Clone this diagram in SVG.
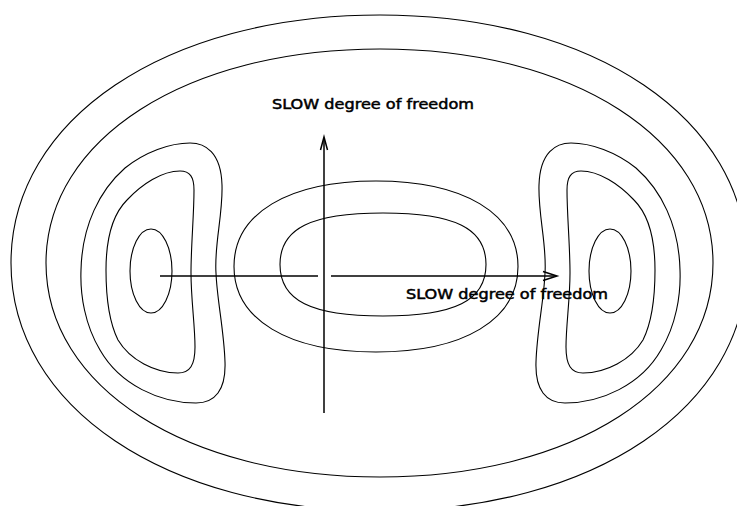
<svg xmlns="http://www.w3.org/2000/svg" width="737" height="506" viewBox="0 0 737 506">
  <style>
    .c { fill: none; stroke: #000; stroke-width: 1.1; }
    .ax { fill: none; stroke: #000; stroke-width: 1.5; }
    .lbl { font-family: "DejaVu Sans", "Liberation Sans", sans-serif; font-size: 14px; fill: #000; stroke: #000; stroke-width: 0.5; }
  </style>
  <defs>
    <g id="lobe">
      <path class="c" d="M190,143 C205,143 221,152 222,185 C223,215 214,245 216,273 C217,300 224,330 225,362 C226,390 215,403 196,403 C160,403 120,385 100,350 C85,325 80,295 81,270 C82,225 100,190 125,168 C145,152 170,143 190,143 Z"/>
      <path class="c" d="M180,171 C190,171 194,177 194,190 C194,215 191,245 191,273 C191,300 195,325 195,347 C195,365 190,373 178,373 C155,373 130,360 118,340 C109,322 106,295 106,270 C106,240 112,215 127,200 C142,184 162,171 180,171 Z"/>
      <ellipse class="c" cx="151" cy="271" rx="21" ry="42"/>
    </g>
  </defs>
  <rect width="737" height="506" fill="#fff"/>
  <g id="outer-contours">
    <path class="c" d="M11,263 C11,119.2 166,15 380,15 C594,15 747,119.2 747,263 C747,406.8 594,511 380,511 C166,511 11,406.8 11,263 Z"/>
    <path class="c" d="M46,263 C46,138.9 186.3,49 380,49 C573.7,49 713,138.9 713,263 C713,387.1 573.7,477 380,477 C186.3,477 46,387.1 46,263 Z"/>
  </g>
  <g id="left-well">
    <use href="#lobe"/>
  </g>
  <g id="right-well">
    <use href="#lobe" transform="matrix(-1 0 0 1 761 0)"/>
  </g>
  <g id="central-well">
    <path class="c" d="M234,266.5 C234,213.5 288,181 376,181 C464,181 518,213.5 518,266.5 C518,319.5 464,352 376,352 C288,352 234,319.5 234,266.5 Z"/>
    <path class="c" d="M280,264.5 C280,228.45 310.9,213 383,213 C455.1,213 486,228.45 486,264.5 C486,300.55 455.1,316 383,316 C310.9,316 280,300.55 280,264.5 Z"/>
  </g>
  <g id="connectors">
    <line class="ax" x1="324" y1="413" x2="324" y2="138"/>
    <polyline class="ax" points="320.5,150 324,137 327.5,150"/>
    <line class="ax" x1="160" y1="276" x2="318" y2="276"/>
    <line class="ax" x1="331" y1="276" x2="556" y2="276"/>
    <polyline class="ax" points="543,271.5 557,276 543,280.5"/>
  </g>
  <g id="labels">
    <text class="lbl" x="272" y="109" textLength="202" lengthAdjust="spacingAndGlyphs">SLOW degree of freedom</text>
    <text class="lbl" x="406" y="299" textLength="202" lengthAdjust="spacingAndGlyphs">SLOW degree of freedom</text>
  </g>
</svg>
